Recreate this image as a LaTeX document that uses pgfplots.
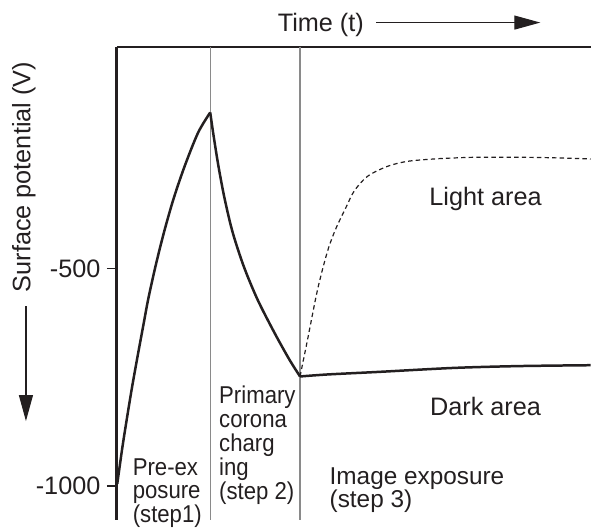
\documentclass[border=0pt]{standalone}
\usepackage{fontspec}
\setmainfont{Liberation Sans}
\usepackage{graphicx}
\usepackage{pgfplots}
\pgfplotsset{compat=1.18}
\usetikzlibrary{arrows.meta}
\definecolor{ink}{HTML}{231F20}
\definecolor{divgray}{HTML}{8A8A8A}
\newcommand\f{\fontsize{12.65bp}{14bp}\selectfont}
\newcommand\g{\fontsize{12.2bp}{14bp}\selectfont}
\newcommand\sq[1]{\scalebox{0.91}[1]{#1}}
\begin{document}
\begin{tikzpicture}
\begin{axis}[
  x=0.5bp, y=0.218bp,
  xmin=117, xmax=592, ymin=-1078, ymax=9.2,
  axis x line=top, axis y line=left,
  axis line style={-, line width=1.3bp, ink},
  xtick=\empty,
  ytick={-1000,-500}, yticklabels={-1000,-500},
  tick align=outside, major tick length=5bp,
  tick style={line width=0.6bp, ink},
  yticklabel style={font=\f, text=ink, inner sep=0pt, xshift=-3bp},
  clip=false,
]
% bounding box
\path (axis cs:0,-1100.9) rectangle (axis cs:592,117.0);
% dividers
\addplot[divgray, line width=0.65bp] coordinates {(210.7,9.2) (210.7,-1078)};
\addplot[divgray, line width=0.65bp] coordinates {(300.7,9.2) (300.7,-1078)};
% step 1
\addplot[ink, line width=1.25bp, smooth, tension=0.5] coordinates {
(117.5,-995.4) (122.4,-915.1) (126.6,-853.2) (132,-777.5)
(137.9,-701.8) (144.2,-623.9) (148.5,-571.1) (155.8,-495.4) (164.3,-417.4)
(173.7,-341.7) (184.9,-266.0) (198.5,-188.1) (210.7,-141.5)};
% step 2
\addplot[ink, line width=1.25bp, smooth, tension=0.5] coordinates {
(210.7,-141.5) (213.6,-188.1) (219,-266.0) (225.3,-341.7) (233.2,-417.4)
(244.3,-495.4) (258,-571.1) (274.8,-646.8) (289.8,-708.7) (300.7,-748.4)};
% dark area
\addplot[ink, line width=1.25bp, smooth, tension=0.5] coordinates {
(300.7,-748.4) (328,-743.8) (380,-737.8) (455,-728.7) (520,-724.5) (592,-722.5)};
% light area
\addplot[ink, line width=0.6bp, dash pattern=on 2.2bp off 1.6bp, smooth, tension=0.5] coordinates {
(300.7,-748.4) (308.3,-662.8) (318.3,-548.2) (328.3,-460) (336.7,-408) (346.7,-360)
(355,-322) (368.3,-288.3) (388.3,-265.4) (408.3,-253.9) (435,-248.4) (455,-246.1)
(480,-244.5) (540,-245) (592,-248.4)};
% labels
\node[font=\f, text=ink] at (axis cs:321.5,60) {Time (t)};
\draw[ink, line width=0.6bp, -{Triangle[length=13bp, width=7bp]}] (axis cs:377,65.1) -- (axis cs:541.5,65.1);
\node[font=\f, text=ink, rotate=90] at (axis cs:24,-290) {Surface potential (V)};
\draw[ink, line width=0.6bp, -{Triangle[length=13bp, width=7bp]}] (axis cs:26,-587.2) -- (axis cs:26,-850.9);
\node[font=\f, text=ink, anchor=base west, inner sep=0pt] at (axis cs:430,-355.5) {Light area};
\node[font=\f, text=ink, anchor=base west, inner sep=0pt] at (axis cs:430.7,-837.2) {Dark area};
\node[font=\g, text=ink, anchor=base west, inner sep=0pt] at (axis cs:132.7,-976.4) {\sq{Pre-ex}};
\node[font=\g, text=ink, anchor=base west, inner sep=0pt] at (axis cs:132.7,-1029.8) {\sq{posure}};
\node[font=\g, text=ink, anchor=base west, inner sep=0pt] at (axis cs:132.7,-1083.3) {\sq{(step1)}};
\node[font=\g, text=ink, anchor=base west, inner sep=0pt] at (axis cs:219.3,-809.6) {\sq{Primary}};
\node[font=\g, text=ink, anchor=base west, inner sep=0pt] at (axis cs:219.3,-864.7) {\sq{corona}};
\node[font=\g, text=ink, anchor=base west, inner sep=0pt] at (axis cs:219.3,-919.7) {\sq{charg}};
\node[font=\g, text=ink, anchor=base west, inner sep=0pt] at (axis cs:219.3,-975.9) {\sq{ing}};
\node[font=\g, text=ink, anchor=base west, inner sep=0pt] at (axis cs:219.3,-1031.0) {\sq{(step 2)}};
\node[font=\g, text=ink, anchor=base west, inner sep=0pt] at (axis cs:330,-997.7) {Image exposure};
\node[font=\g, text=ink, anchor=base west, inner sep=0pt] at (axis cs:330,-1049.3) {(step 3)};
\end{axis}
\end{tikzpicture}
\end{document}
